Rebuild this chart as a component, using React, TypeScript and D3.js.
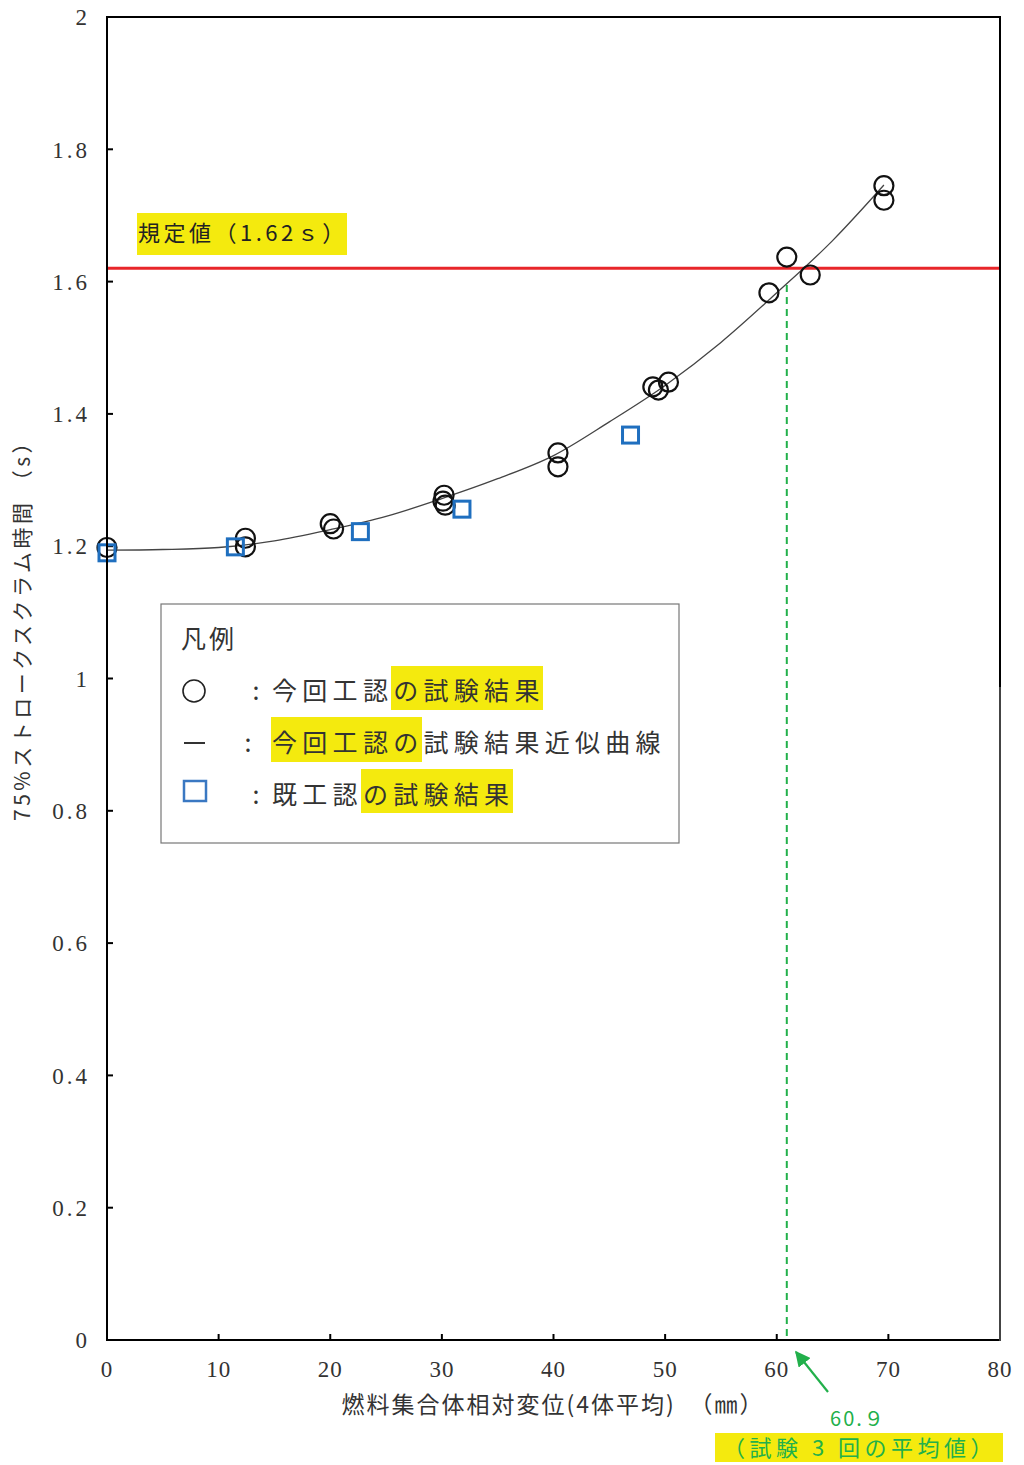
import React from "react";
import * as d3 from "d3";

const xTicks = [0, 10, 20, 30, 40, 50, 60, 70, 80];
const yTicks = [0, 0.2, 0.4, 0.6, 0.8, 1, 1.2, 1.4, 1.6, 1.8, 2];
const yTickLabels = ["0", "0.2", "0.4", "0.6", "0.8", "1", "1.2", "1.4", "1.6", "1.8", "2"];

// 今回工認の試験結果 (circles)
const circleX = [0, 12.4, 12.4, 20.0, 20.3, 30.2, 30.1, 30.3, 40.4, 40.4, 48.9, 49.4, 50.3, 59.3, 60.9, 63.0, 69.6, 69.6];
const circleY = [1.198, 1.212, 1.199, 1.234, 1.226, 1.277, 1.268, 1.262, 1.341, 1.320, 1.441, 1.436, 1.448, 1.583, 1.637, 1.610, 1.745, 1.723];

// 既工認の試験結果 (squares)
const squareX = [0, 11.5, 22.7, 31.8, 46.9];
const squareY = [1.190, 1.199, 1.222, 1.256, 1.368];

// 近似曲線
const curveX = [0, 5, 10, 15, 20, 25, 30, 35, 40, 45, 50, 55, 60, 65, 69.6];
const curveY = [1.194, 1.195, 1.198, 1.208, 1.225, 1.245, 1.272, 1.302, 1.337, 1.388, 1.443, 1.508, 1.583, 1.662, 1.746];

const limitValue = 1.62;
const avgValue = 60.9;

export default function App() {
  const x = d3.scaleLinear().domain([0, 80]).range([107, 1000]);
  const y = d3.scaleLinear().domain([0, 2]).range([1340, 17]);
  const line = d3
    .line<number>()
    .x((_, i) => x(curveX[i]))
    .y((d) => y(d))
    .curve(d3.curveMonotoneX);

  const jp = "'Noto Sans CJK JP', sans-serif";
  const num = "'Liberation Serif', serif";
  const green = "#22b04b";
  const yellow = "#f4ea0e";

  return (
    <svg
      width={1024}
      height={1465}
      style={{ position: "absolute", left: 0, top: 0, background: "#fff" }}
    >
      {/* y ticks */}
      {yTicks.map((t, i) => (
        <g key={"yt" + i}>
          <line x1={x(0)} x2={x(0) + 6} y1={y(t)} y2={y(t)} stroke="#000" strokeWidth={2} />
          <text
            x={90}
            y={y(t)}
            dy="0.36em"
            textAnchor="end"
            fontFamily={num}
            fontSize={23}
            letterSpacing={3}
            fill="#333"
          >
            {yTickLabels[i]}
          </text>
        </g>
      ))}
      {/* x ticks */}
      {xTicks.map((t, i) => (
        <g key={"xt" + i}>
          <line x1={x(t)} x2={x(t)} y1={y(0)} y2={y(0) - 6} stroke="#000" strokeWidth={2} />
          <text
            x={x(t)}
            y={1369}
            dy="0.36em"
            textAnchor="middle"
            fontFamily={num}
            fontSize={23}
            letterSpacing={1}
            fill="#333"
          >
            {t}
          </text>
        </g>
      ))}

      {/* limit line */}
      <line x1={x(0)} x2={x(80)} y1={y(limitValue)} y2={y(limitValue)} stroke="#e8262a" strokeWidth={3} />

      {/* green dashed */}
      <line
        x1={x(avgValue)}
        x2={x(avgValue)}
        y1={285}
        y2={y(0)}
        stroke={green}
        strokeWidth={2}
        strokeDasharray="7,5"
      />

      {/* curve */}
      <path d={line(curveY) ?? ""} fill="none" stroke="#444" strokeWidth={1.3} />

      {/* circles */}
      {circleX.map((cx, i) => (
        <circle key={"c" + i} cx={x(cx)} cy={y(circleY[i])} r={9.5} fill="none" stroke="#111" strokeWidth={2.2} />
      ))}
      {/* squares */}
      {squareX.map((sx, i) => (
        <rect
          key={"s" + i}
          x={x(sx) - 8}
          y={y(squareY[i]) - 8}
          width={16}
          height={16}
          fill="none"
          stroke="#1f6fbf"
          strokeWidth={3}
        />
      ))}

      {/* frame */}
      <line x1={107} x2={107} y1={17} y2={1341} stroke="#000" strokeWidth={2} />
      <line x1={106} x2={1001} y1={1340} y2={1340} stroke="#000" strokeWidth={2} />
      <line x1={106} x2={1001} y1={17} y2={17} stroke="#000" strokeWidth={2} />
      <line x1={1000} x2={1000} y1={17} y2={687} stroke="#000" strokeWidth={2} />
      <line x1={1000} x2={1000} y1={687} y2={1341} stroke="#444" strokeWidth={2} />

      {/* limit label */}
      <rect x={137} y={213} width={210} height={42} fill={yellow} />
      <text x={138} y={241} fontFamily={jp} fontSize={22} letterSpacing={3.5} fill="#222">
        規定値（1.62ｓ）
      </text>

      {/* legend */}
      <rect x={161} y={604} width={518} height={239} fill="#fff" stroke="#777" strokeWidth={1.2} />
      <text x={181} y={648} fontFamily={jp} fontSize={25} letterSpacing={3} fill="#333">
        凡例
      </text>
      {/* row 1 */}
      <circle cx={194} cy={691} r={11} fill="none" stroke="#222" strokeWidth={1.6} />
      <rect x={391} y={666} width={152} height={44} fill={yellow} />
      <text x={256} y={700} textAnchor="middle" fontFamily={jp} fontSize={25} fill="#333">:</text>
      <text x={272} y={700} fontFamily={jp} fontSize={25} letterSpacing={5.3} fill="#333">
        今回工認の試験結果
      </text>
      {/* row 2 */}
      <line x1={184} x2={205} y1={743} y2={743} stroke="#333" strokeWidth={2} />
      <rect x={271} y={717} width={151} height={45} fill={yellow} />
      <text x={248} y={752} textAnchor="middle" fontFamily={jp} fontSize={25} fill="#333">:</text>
      <text x={272} y={752} fontFamily={jp} fontSize={25} letterSpacing={5.3} fill="#333">
        今回工認の試験結果近似曲線
      </text>
      {/* row 3 */}
      <rect x={184} y={781} width={22} height={20} fill="none" stroke="#3a78c2" strokeWidth={2.5} />
      <rect x={361} y={769} width={152} height={44} fill={yellow} />
      <text x={256} y={804} textAnchor="middle" fontFamily={jp} fontSize={25} fill="#333">:</text>
      <text x={272} y={804} fontFamily={jp} fontSize={25} letterSpacing={5.3} fill="#333">
        既工認の試験結果
      </text>

      {/* axis titles */}
      <text
        transform="translate(30,625) rotate(-90)"
        textAnchor="middle"
        fontFamily={jp}
        fontSize={21}
        letterSpacing={3.5}
        fill="#333"
      >
        75%ストロークスクラム時間 （s）
      </text>
      <text x={553} y={1413} textAnchor="middle" fontFamily={jp} fontSize={23} letterSpacing={2} fill="#333">
        燃料集合体相対変位(4体平均)　（㎜）
      </text>

      {/* annotation */}
      <defs>
        <marker id="ah" viewBox="0 0 10 10" refX={9} refY={5} markerWidth={7} markerHeight={7} orient="auto">
          <path d="M0,0 L10,5 L0,10 z" fill={green} />
        </marker>
      </defs>
      <line x1={828} y1={1392} x2={796} y2={1352} stroke={green} strokeWidth={2.2} markerEnd="url(#ah)" />
      <text x={858} y={1426} textAnchor="middle" fontFamily={jp} fontSize={20} letterSpacing={2} fill={green}>
        60.９
      </text>
      <rect x={715} y={1433} width={288} height={29} fill={yellow} />
      <text x={860} y={1456} textAnchor="middle" fontFamily={jp} fontSize={22} letterSpacing={4.5} fill={green}>
        （試験 3 回の平均値）
      </text>
    </svg>
  );
}
